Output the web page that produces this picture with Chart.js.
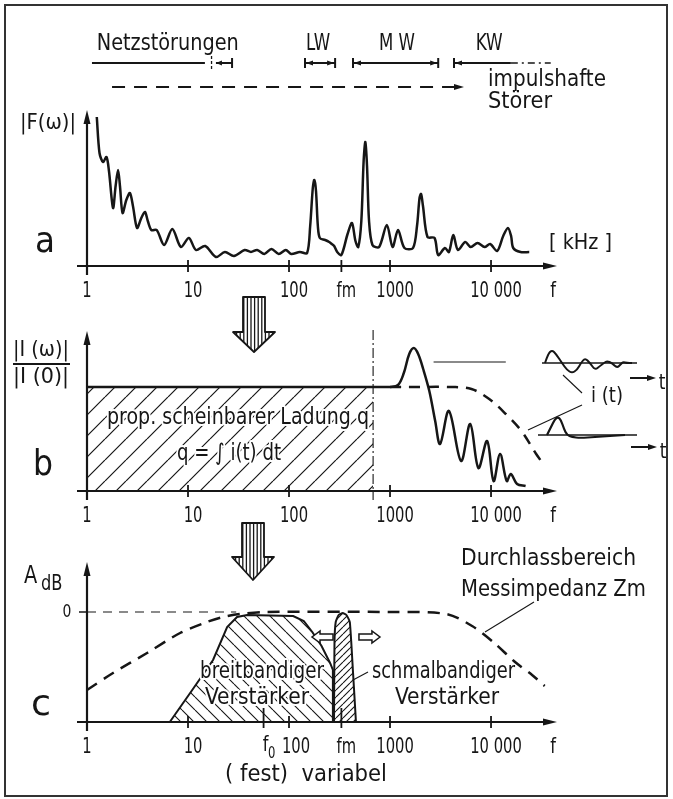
<!DOCTYPE html>
<html>
<head>
<meta charset="utf-8">
<script src="https://cdn.jsdelivr.net/npm/chart.js@4.4.1/dist/chart.umd.min.js"></script>
<style>
    html, body { margin: 0; padding: 0; background: #fff; }
    #page { position: relative; width: 673px; height: 799px; overflow: hidden; background: #fff; }
    #frame { position: absolute; left: 4px; top: 4px; width: 660px; height: 789px; border: 2px solid #333; }
    canvas { position: absolute; left: 0; }
</style>
</head>
<body>
<div id="page">
    <div id="frame"></div>
    <canvas id="ca" width="673" height="310" style="top:0"></canvas>
    <canvas id="cb" width="673" height="240" style="top:292px"></canvas>
    <canvas id="cc" width="673" height="284" style="top:515px"></canvas>
</div>
<script>
(function () {
    'use strict';

    // ── panel a: interference spectrum |F(ω)| ─────────────────────────────
    var aFreq = [1.25, 1.33, 1.44, 1.56, 1.65, 1.81, 1.92, 2.03, 2.12, 2.25, 2.45, 2.66, 2.85, 3.13, 3.45, 3.75,
                 4.0, 4.34, 4.9, 5.8, 7.0, 8.5, 10.2, 12.0, 14.8, 18.9, 23.2, 28.5, 36.4, 42, 48.4, 57, 67, 79,
                 93, 105, 128, 151, 162, 172, 178, 185, 193, 202, 228, 250, 265, 280, 300, 330, 380, 420, 455,
                 485, 520, 548, 570, 592, 620, 670, 780, 930, 1060, 1200, 1390, 1690, 1850, 1960, 2030, 2120,
                 2350, 2760, 3000, 3500, 3830, 4230, 4700, 5550, 6300, 7360, 8640, 9800, 11500, 13200, 14700,
                 15800, 16600, 19600, 23900];
    var aAmp  = [149, 113, 104, 109, 95, 58, 80, 96, 80, 53, 66, 73, 60, 38, 48, 54,
                 45, 36, 36, 21, 37, 19, 28, 16, 20, 9, 14, 10, 16, 14, 16, 12, 17, 12,
                 16, 12, 14, 13, 40, 78, 86, 75, 40, 28, 26, 24, 22, 20, 14, 11, 32, 43, 25,
                 19, 45, 105, 124, 100, 45, 21, 19, 41, 19, 36, 18, 18, 40, 68, 72, 60,
                 29, 28, 11, 18, 14, 31, 16, 24, 19, 23, 19, 22, 15, 30, 38,
                 30, 18, 14, 14];
    var aTicks      = [1, 10, 100, 330, 1000, 10000];
    var aTickLabels = ['1', '10', '100', 'fm', '1000', '10 000'];

    // frequency bands above panel a
    var bandNames  = ['Netzstörungen', 'LW', 'M W', 'KW'];
    var bandLabelF = [6.3, 194, 1170, 9600];
    var bandLabelW = [142, 24, 36, 27];
    var bandFrom   = [1.12, 144, 430, 4300];
    var bandTo     = [14.7, 286, 3000, 15700];
    var netzMark = 17.1, netzSeg = [18.9, 27.3], kwDashTo = 39000;
    var impulsFrom = 1.77, impulsTo = 5400;

    // ── panel b: |I(ω)| / |I(0)| ──────────────────────────────────────────
    var bFlatFreq  = [1, 680];
    var bFlatAmp   = [104, 104];
    var bCurveFreq = [1, 900, 1000, 1200, 1370, 1550, 1720, 1900, 2130, 2450, 2800, 3130, 3830, 5050, 6220,
                      7500, 9150, 10600, 12300, 14300, 15700, 18100, 22000];
    var bCurveAmp  = [104, 104, 104, 106, 118, 137, 143, 137, 122, 100, 70, 47, 80, 30, 67,
                      23, 50, 10, 37, 10, 17, 7, 5];
    var bDashFreq  = [1000, 2000, 4000, 6400, 9600, 14000, 20000, 28000, 34000];
    var bDashAmp   = [104, 104, 104, 102, 92, 77, 60, 37, 25];
    var bSegFreq   = [2700, 14000];
    var bSegAmp    = [129, 129];
    var bCut = 680;
    var bTicks      = [1, 10, 100, 1000, 10000];
    var bTickLabels = ['1', '10', '100', '1000', '10 000'];
    // sketched i(t) pulses (offset px, amplitude px)
    var waveRingT = [0, 3, 7, 11, 17, 22, 27, 32, 36, 40, 45, 50, 55, 59, 62, 67, 72, 76, 78, 82, 87];
    var waveRingV = [0, 9, 13, 9, 0, -7, -10, -7, 0, 5, 0, -7, -3, 0, 2, 0, -5, -1, 1, 0, 0];
    var wavePulseT = [0, 4, 8, 11, 14, 17, 20, 25, 33, 48, 63, 78];
    var wavePulseV = [0, 8, 16, 18, 15, 6, 0, -2, -3, -2, -1, 0];

    // ── panel c: A_dB ─────────────────────────────────────────────────────
    var cPassFreq   = [1, 1.81, 3.93, 8.35, 15.4, 22.2, 32.7, 60, 1000, 3600, 6500, 10500, 17300, 25500, 34000];
    var cPassAmp    = [32, 49, 69, 89, 100, 105, 108, 110, 110, 108, 96, 80, 60, 47, 36];
    var cZeroFreq   = [1, 30];
    var cZeroAmp    = [110, 110];
    var cBroadFreq  = [6.6, 10.5, 17.7, 24.4, 30.6, 38.5, 110, 140, 170, 210, 255, 272, 272];
    var cBroadAmp   = [0, 29, 62, 95, 105, 107, 106, 101, 90, 76, 59, 52, 0];
    var cNarrowFreq = [279, 282, 290, 310, 340, 370, 400, 430, 460];
    var cNarrowAmp  = [0, 80, 100, 107, 109, 107, 100, 50, 0];
    var cTicks      = [1, 10, 56, 100, 330, 1000, 10000];
    var cTickLabels = ['1', '10', 'f0', '100', 'fm', '1000', '10 000'];
    var cLongTicks  = [56, 330];

    var INK  = '#161616';
    var FONT = '"DejaVu Sans Condensed", "DejaVu Sans", sans-serif';

    // ── drawing helpers ───────────────────────────────────────────────────
    // text squeezed horizontally like the stencil lettering; w = target width
    function txt(ctx, s, x, y, size, align, halo, w) {
        ctx.save();
        ctx.font = size + 'px ' + FONT;
        ctx.textBaseline = 'middle';
        ctx.textAlign = 'left';
        var mw = ctx.measureText(s).width;
        var sx = w ? w / mw : 0.86;
        var width = mw * sx;
        var left = align === 'center' ? x - width / 2 : align === 'right' ? x - width : x;
        ctx.translate(left, y);
        ctx.scale(sx, 1);
        if (halo) {
            ctx.lineWidth = 4; ctx.lineJoin = 'round'; ctx.strokeStyle = '#fff';
            ctx.strokeText(s, 0, 0);
        }
        ctx.fillStyle = INK;
        ctx.fillText(s, 0, 0);
        ctx.restore();
    }

    function poly(ctx, pts, w, dash) {
        ctx.save();
        ctx.lineWidth = w; ctx.strokeStyle = INK; ctx.lineCap = 'butt';
        ctx.setLineDash(dash || []);
        ctx.beginPath();
        pts.forEach(function (p, i) { if (i) ctx.lineTo(p[0], p[1]); else ctx.moveTo(p[0], p[1]); });
        ctx.stroke();
        ctx.restore();
    }

    function head(ctx, x, y, ang, len, wid) {
        ctx.save();
        ctx.translate(x, y); ctx.rotate(ang);
        ctx.beginPath();
        ctx.moveTo(0, 0); ctx.lineTo(-len, -wid / 2); ctx.lineTo(-len, wid / 2); ctx.closePath();
        ctx.fillStyle = INK; ctx.fill();
        ctx.restore();
    }

    function smooth(ctx, pts, w) {
        ctx.save();
        ctx.lineWidth = w; ctx.strokeStyle = INK; ctx.lineJoin = 'round';
        ctx.beginPath();
        ctx.moveTo(pts[0][0], pts[0][1]);
        for (var i = 1; i < pts.length - 1; i++) {
            var mx = (pts[i][0] + pts[i + 1][0]) / 2, my = (pts[i][1] + pts[i + 1][1]) / 2;
            ctx.quadraticCurveTo(pts[i][0], pts[i][1], mx, my);
        }
        ctx.lineTo(pts[pts.length - 1][0], pts[pts.length - 1][1]);
        ctx.stroke();
        ctx.restore();
    }

    function hatch(step, dir, w) {
        var c = document.createElement('canvas');
        c.width = c.height = step;
        var g = c.getContext('2d');
        g.strokeStyle = INK; g.lineWidth = w;
        g.beginPath();
        for (var k = -1; k <= 1; k++) {
            if (dir > 0) { g.moveTo(k * step, step); g.lineTo(k * step + step, 0); }
            else { g.moveTo(k * step, 0); g.lineTo(k * step + step, step); }
        }
        g.stroke();
        return g.createPattern(c, 'repeat');
    }

    // hatched block arrow between the panels
    function blockArrow(ctx, cx, top, headY, tip) {
        var p = new Path2D();
        p.moveTo(cx - 11, top); p.lineTo(cx + 11, top); p.lineTo(cx + 11, headY); p.lineTo(cx + 21, headY);
        p.lineTo(cx, tip); p.lineTo(cx - 21, headY); p.lineTo(cx - 11, headY); p.closePath();
        ctx.save();
        ctx.clip(p);
        ctx.strokeStyle = INK; ctx.lineWidth = 1.3;
        ctx.beginPath();
        for (var x = cx - 21; x <= cx + 21; x += 3.6) { ctx.moveTo(x, top); ctx.lineTo(x, tip); }
        ctx.stroke();
        ctx.restore();
        ctx.save();
        ctx.strokeStyle = INK; ctx.lineWidth = 1.8; ctx.lineJoin = 'round';
        ctx.stroke(p);
        ctx.restore();
    }

    function hollowArrow(ctx, x, y, dir) {
        // x = tail end, dir = +1 right / -1 left
        var L = 21, hl = 8;
        var pts = [[0, -3], [L - hl, -3], [L - hl, -6], [L, 0], [L - hl, 6], [L - hl, 3], [0, 3]];
        ctx.save();
        ctx.beginPath();
        pts.forEach(function (p, i) {
            var px = x + dir * p[0], py = y + p[1];
            if (i) ctx.lineTo(px, py); else ctx.moveTo(px, py);
        });
        ctx.closePath();
        ctx.fillStyle = '#fff'; ctx.fill();
        ctx.strokeStyle = INK; ctx.lineWidth = 1.5; ctx.stroke();
        ctx.restore();
    }

    function tickLabel(ctx, s, x, y) {
        if (s === 'f0') {
            txt(ctx, 'f', x - 3, y - 2, 21, 'center');
            txt(ctx, '0', x + 3, y + 6, 15, 'center');
        } else {
            ctx.save();
            ctx.font = '21px ' + FONT;
            var w = ctx.measureText(s).width * 0.78;
            ctx.restore();
            txt(ctx, s, x, y, 21, 'center', false, w);
        }
    }

    function drawAxes(chart, ticks, labels, longTicks) {
        var ctx = chart.ctx, xs = chart.scales.x, ys = chart.scales.y, a = chart.chartArea;
        var y0 = ys.getPixelForValue(0), x0 = xs.getPixelForValue(1);
        poly(ctx, [[a.left - 10, y0], [a.right - 8, y0]], 2.2);
        head(ctx, a.right, y0, 0, 14, 7);
        poly(ctx, [[x0, y0 + 9], [x0, a.top + 8]], 2.2);
        head(ctx, x0, a.top, -Math.PI / 2, 14, 7);
        ticks.forEach(function (v, i) {
            var x = xs.getPixelForValue(v);
            var up = (longTicks && longTicks.indexOf(v) >= 0) ? 14 : 6;
            if (i) poly(ctx, [[x, y0 - up], [x, y0 + 6]], 1.8);
            var dx = i ? (labels[i] === '100' && longTicks ? 7 : 5) : 0;
            tickLabel(ctx, labels[i], x + dx, y0 + 26);
        });
        txt(ctx, 'f', a.right - 4, y0 + 26, 21, 'center');
    }

    function pts(fs, vs) {
        return fs.map(function (f, i) { return { x: f, y: vs[i] }; });
    }

    function line(fs, vs, w, extra) {
        var ds = { data: pts(fs, vs), borderColor: INK, borderWidth: w, pointRadius: 0,
                   fill: false, tension: 0.3, clip: false };
        for (var k in extra) ds[k] = extra[k];
        return ds;
    }

    function makeChart(id, pad, ymax, datasets, plugin) {
        return new Chart(document.getElementById(id), {
            type: 'line',
            data: { datasets: datasets },
            options: {
                responsive: false,
                animation: false,
                devicePixelRatio: 1,
                layout: { padding: pad },
                plugins: { legend: { display: false }, tooltip: { enabled: false } },
                scales: {
                    x: { type: 'logarithmic', min: 1, max: 45000, display: false },
                    y: { type: 'linear', min: 0, max: ymax, display: false }
                }
            },
            plugins: [plugin]
        });
    }

    // ── chart a ───────────────────────────────────────────────────────────
    makeChart('ca', { left: 87, right: 116, top: 110, bottom: 44 }, 156, [
        line(aFreq, aAmp, 2.5, { tension: 0.3 })
    ], {
        id: 'panelA',
        afterDraw: function (chart) {
            var ctx = chart.ctx, xs = chart.scales.x;
            var X = function (v) { return xs.getPixelForValue(v); };
            drawAxes(chart, aTicks, aTickLabels);

            // band labels and ranges
            var yb = 63;
            bandNames.forEach(function (n, i) {
                txt(ctx, n, X(bandLabelF[i]), 44, 23, 'center', false, bandLabelW[i]);
            });
            poly(ctx, [[X(bandFrom[0]), yb], [X(bandTo[0]), yb]], 2.2);
            poly(ctx, [[X(netzMark), yb - 7], [X(netzMark), yb + 8]], 1.3, [3, 2]);
            poly(ctx, [[X(netzSeg[0]), yb], [X(netzSeg[1]), yb]], 2);
            head(ctx, X(netzSeg[0]), yb, Math.PI, 6, 5);
            poly(ctx, [[X(netzSeg[1]), yb - 5], [X(netzSeg[1]), yb + 5]], 2);
            [1, 2].forEach(function (i) {
                var x1 = X(bandFrom[i]), x2 = X(bandTo[i]);
                poly(ctx, [[x1, yb], [x2, yb]], 2);
                poly(ctx, [[x1, yb - 5], [x1, yb + 5]], 2);
                poly(ctx, [[x2, yb - 5], [x2, yb + 5]], 2);
                head(ctx, x1 + 1, yb, Math.PI, 7, 5);
                head(ctx, x2 - 1, yb, 0, 7, 5);
            });
            var k1 = X(bandFrom[3]), k2 = X(bandTo[3]);
            poly(ctx, [[k1, yb - 5], [k1, yb + 5]], 2);
            poly(ctx, [[k1, yb], [k2, yb]], 2);
            head(ctx, k1 + 1, yb, Math.PI, 7, 5);
            poly(ctx, [[k2, yb], [X(kwDashTo), yb]], 1.6, [7, 4, 2, 4]);

            // impulsive interference range
            poly(ctx, [[X(impulsFrom), 87], [X(impulsTo) - 8, 87]], 2.2, [13, 9]);
            head(ctx, X(impulsTo), 87, 0, 10, 6);
            txt(ctx, 'impulshafte', 488, 80, 23, 'left', false, 118);
            txt(ctx, 'Störer', 488, 102, 23, 'left', false, 64);

            txt(ctx, '|F(ω)|', 20, 123, 22, 'left', false, 56);
            txt(ctx, '[ kHz ]', 549, 243, 22, 'left', false, 63);
            txt(ctx, 'a', 45, 243, 36, 'center', false, 20);
        }
    });

    // ── chart b ───────────────────────────────────────────────────────────
    var TB = 292;
    makeChart('cb', { left: 87, right: 116, top: 39, bottom: 41 }, 160, [
        line(bCurveFreq, bCurveAmp, 2.5, { tension: 0.35 }),
        line(bDashFreq, bDashAmp, 2.5, { borderDash: [11, 8], tension: 0.35 }),
        line(bSegFreq, bSegAmp, 1.2, { tension: 0 }),
        line(bFlatFreq, bFlatAmp, 0, { fill: 'origin', backgroundColor: hatch(21, 1, 1.2), tension: 0 })
    ], {
        id: 'panelB',
        afterDatasetsDraw: function (chart) {
            var ctx = chart.ctx;
            txt(ctx, 'prop. scheinbarer Ladung q', 107, 418 - TB, 23, 'left', true, 262);
            txt(ctx, 'q = ∫ i(t) dt', 177, 454 - TB, 23, 'left', true, 104);
        },
        afterDraw: function (chart) {
            var ctx = chart.ctx, xs = chart.scales.x;
            var xc = xs.getPixelForValue(bCut);
            poly(ctx, [[xc, 330 - TB], [xc, 500 - TB]], 1.1, [10, 3, 2, 3]);
            drawAxes(chart, bTicks, bTickLabels);
            blockArrow(ctx, 254, 5, 40, 60);

            // y label |I(ω)| / |I(0)|
            txt(ctx, '|I (ω)|', 13, 351 - TB, 21, 'left', false, 56);
            poly(ctx, [[13, 364 - TB], [70, 364 - TB]], 1.8);
            txt(ctx, '|I (0)|', 13, 378 - TB, 21, 'left', false, 56);
            txt(ctx, 'b', 43, 466 - TB, 36, 'center', false, 20);

            // time-domain sketches
            var yb1 = 363 - TB, yb2 = 435 - TB;
            poly(ctx, [[542, yb1], [637, yb1]], 1.3);
            smooth(ctx, waveRingT.map(function (t, i) { return [545 + t, yb1 - waveRingV[i]]; }), 2);
            poly(ctx, [[538, yb2], [637, yb2]], 1.3);
            smooth(ctx, wavePulseT.map(function (t, i) { return [547 + t, yb2 - wavePulseV[i]]; }), 2.2);
            poly(ctx, [[630, 378 - TB], [648, 378 - TB]], 2);
            head(ctx, 656, 378 - TB, 0, 9, 6);
            txt(ctx, 't', 662, 383 - TB, 22, 'center');
            poly(ctx, [[631, 447 - TB], [649, 447 - TB]], 2);
            head(ctx, 657, 447 - TB, 0, 9, 6);
            txt(ctx, 't', 663, 452 - TB, 22, 'center');
            txt(ctx, 'i (t)', 607, 396 - TB, 22, 'center', false, 32);
            poly(ctx, [[563, 375 - TB], [582, 393 - TB]], 1.1);
            poly(ctx, [[582, 405 - TB], [528, 430 - TB]], 1.1);
        }
    });

    // ── chart c ───────────────────────────────────────────────────────────
    var TC = 515;
    makeChart('cc', { left: 87, right: 116, top: 47, bottom: 77 }, 160, [
        line(cNarrowFreq, cNarrowAmp, 2, { fill: 'origin', backgroundColor: hatch(7, 1, 1.1), tension: 0.15 }),
        line(cBroadFreq, cBroadAmp, 2, { fill: 'origin', backgroundColor: hatch(13, -1, 1.1), tension: 0 }),
        line(cZeroFreq, cZeroAmp, 1.2, { borderDash: [9, 7], tension: 0 }),
        line(cPassFreq, cPassAmp, 2.5, { borderDash: [12, 8], tension: 0.3 })
    ], {
        id: 'panelC',
        afterDatasetsDraw: function (chart) {
            var ctx = chart.ctx;
            txt(ctx, 'breitbandiger', 200, 672 - TC, 23, 'left', true, 124);
            txt(ctx, 'Verstärker', 205, 698 - TC, 23, 'left', true, 104);
        },
        afterDraw: function (chart) {
            var ctx = chart.ctx, xs = chart.scales.x, ys = chart.scales.y;
            drawAxes(chart, cTicks, cTickLabels, cLongTicks);
            blockArrow(ctx, 253, 8, 42, 65);

            var y0db = ys.getPixelForValue(cZeroAmp[0]);
            poly(ctx, [[79, y0db], [87, y0db]], 1.5);
            txt(ctx, '0', 67, y0db, 18, 'center');
            txt(ctx, 'A', 24, 576 - TC, 25, 'left');
            txt(ctx, 'dB', 41, 585 - TC, 21, 'left');
            txt(ctx, 'c', 41, 706 - TC, 36, 'center', false, 20);

            txt(ctx, 'Durchlassbereich', 461, 559 - TC, 23, 'left', false, 175);
            txt(ctx, 'Messimpedanz Zm', 461, 590 - TC, 23, 'left', false, 185);
            poly(ctx, [[534, 602 - TC], [485, 632 - TC]], 1.1);

            txt(ctx, 'schmalbandiger', 372, 672 - TC, 23, 'left', false, 143);
            txt(ctx, 'Verstärker', 395, 698 - TC, 23, 'left', false, 104);
            poly(ctx, [[368, 672 - TC], [353, 680 - TC]], 1.1);

            var xl = xs.getPixelForValue(cNarrowFreq[0]) - 1;
            var xr = xs.getPixelForValue(cNarrowFreq[cNarrowFreq.length - 1]) + 3;
            hollowArrow(ctx, xl, 637 - TC, -1);
            hollowArrow(ctx, xr, 637 - TC, 1);

            txt(ctx, '( fest)  variabel', 225, 775 - TC, 23, 'left', false, 162);
        }
    });
})();
</script>
</body>
</html>
